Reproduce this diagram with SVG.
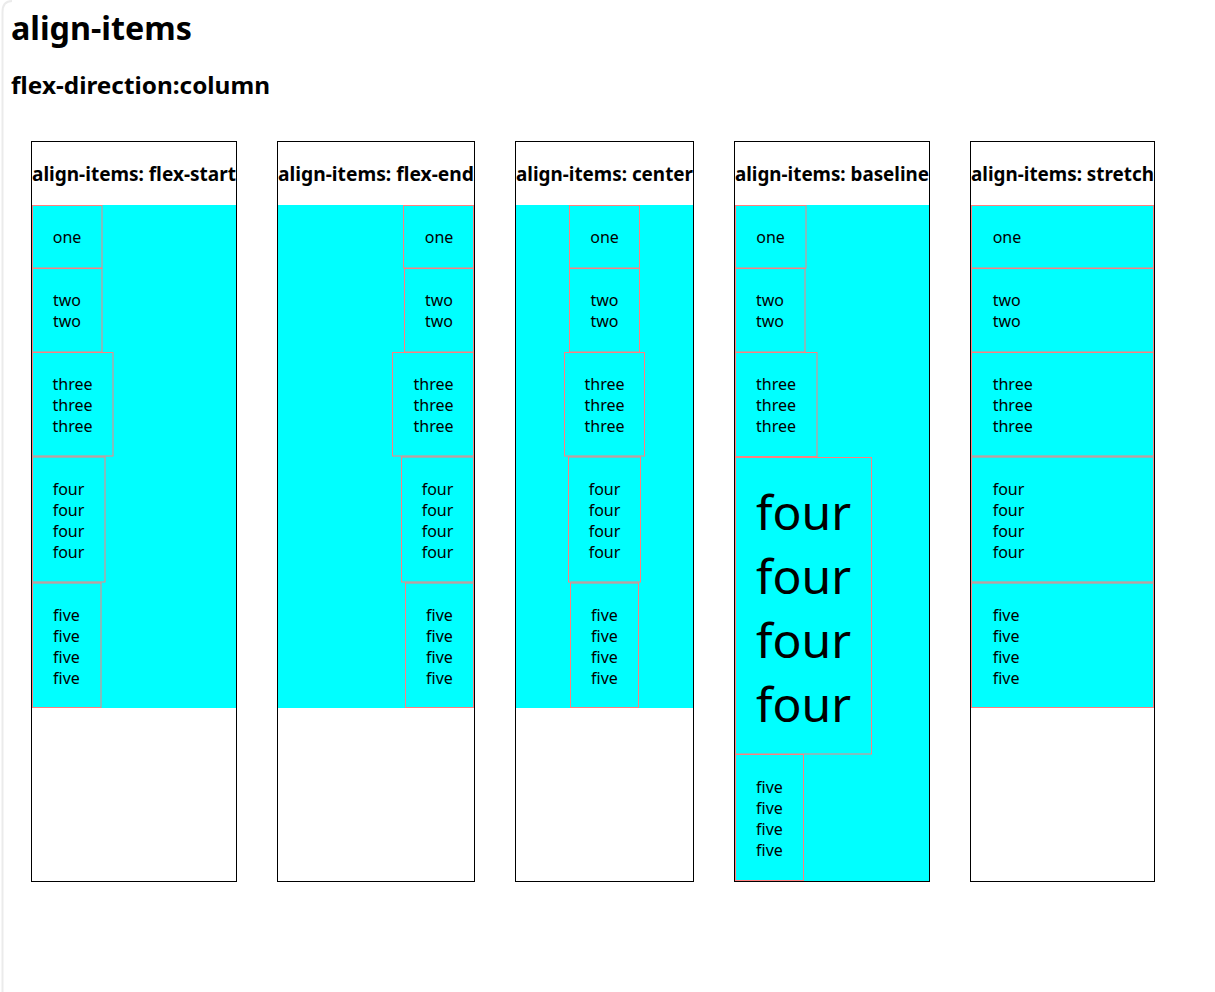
<svg xmlns="http://www.w3.org/2000/svg" width="1215" height="992" viewBox="0 0 1215 992">
<style>
  text { font-family: "Noto Sans", "Open Sans", "Liberation Sans", sans-serif; fill: #000; }
  .h1 { font-size: 32px; font-weight: bold; }
  .h2 { font-size: 24px; font-weight: bold; }
  .hd { font-size: 18.7px; font-weight: bold; }
  .it { font-size: 16px; text-anchor: middle; }
  .its { font-size: 16px; }
  .big { font-size: 48px; text-anchor: middle; }
  .box { fill: #fff; stroke: #000; stroke-width: 1; }
  .cy { fill: #00ffff; }
  .item { fill: #00ffff; stroke: #ff7f7f; stroke-width: 1; }
</style>
<rect x="0" y="0" width="1215" height="992" fill="#fff"/>
<path d="M2.5,992 V12 Q2.5,1 12,1" fill="none" stroke="#ebebeb" stroke-width="2"/>
<text class="h1" x="11" y="40" textLength="181" lengthAdjust="spacingAndGlyphs">align-items</text>
<text class="h2" x="11" y="94" textLength="259" lengthAdjust="spacingAndGlyphs">flex-direction:column</text>

<g id="col-flex-start">
  <rect class="box" x="31.5" y="141.5" width="205" height="740"/>
  <text class="hd" x="32" y="180.5" textLength="204" lengthAdjust="spacingAndGlyphs">align-items: flex-start</text>
  <rect class="cy" x="32" y="205" width="204" height="503"/>
  <g id="c1-one"><rect class="item" x="32.5" y="205.5" width="69.5" height="62.5"/><text class="it" x="67" y="242.7">one</text></g>
  <g id="c1-two"><rect class="item" x="32.5" y="268.5" width="69.5" height="83.5"/><text class="it" x="67"><tspan x="67" y="306">two</tspan><tspan x="67" y="327">two</tspan></text></g>
  <g id="c1-three"><rect class="item" x="32.5" y="352.5" width="80.5" height="103.5"/><text class="it"><tspan x="72.5" y="390">three</tspan><tspan x="72.5" y="411">three</tspan><tspan x="72.5" y="432">three</tspan></text></g>
  <g id="c1-four"><rect class="item" x="32.5" y="457" width="72.5" height="125"/><text class="it"><tspan x="68.5" y="495">four</tspan><tspan x="68.5" y="516">four</tspan><tspan x="68.5" y="537">four</tspan><tspan x="68.5" y="558">four</tspan></text></g>
  <g id="c1-five"><rect class="item" x="32.5" y="583" width="68.5" height="124.5"/><text class="it"><tspan x="66.5" y="621">five</tspan><tspan x="66.5" y="642">five</tspan><tspan x="66.5" y="663">five</tspan><tspan x="66.5" y="684">five</tspan></text></g>
</g>

<g id="col-flex-end">
  <rect class="box" x="277.5" y="141.5" width="197" height="740"/>
  <text class="hd" x="278" y="180.5" textLength="196" lengthAdjust="spacingAndGlyphs">align-items: flex-end</text>
  <rect class="cy" x="278" y="205" width="196" height="503"/>
  <g id="c2-one"><rect class="item" x="403.5" y="205.5" width="70" height="62.5"/><text class="it" x="439" y="242.7">one</text></g>
  <g id="c2-two"><rect class="item" x="404.5" y="268.5" width="69" height="83.5"/><text class="it"><tspan x="439" y="306">two</tspan><tspan x="439" y="327">two</tspan></text></g>
  <g id="c2-three"><rect class="item" x="392.5" y="352.5" width="81" height="103.5"/><text class="it"><tspan x="433.5" y="390">three</tspan><tspan x="433.5" y="411">three</tspan><tspan x="433.5" y="432">three</tspan></text></g>
  <g id="c2-four"><rect class="item" x="401.5" y="457" width="72" height="125"/><text class="it"><tspan x="437.5" y="495">four</tspan><tspan x="437.5" y="516">four</tspan><tspan x="437.5" y="537">four</tspan><tspan x="437.5" y="558">four</tspan></text></g>
  <g id="c2-five"><rect class="item" x="405.5" y="583" width="68" height="124.5"/><text class="it"><tspan x="439.5" y="621">five</tspan><tspan x="439.5" y="642">five</tspan><tspan x="439.5" y="663">five</tspan><tspan x="439.5" y="684">five</tspan></text></g>
</g>

<g id="col-center">
  <rect class="box" x="515.5" y="141.5" width="178" height="740"/>
  <text class="hd" x="516" y="180.5" textLength="177" lengthAdjust="spacingAndGlyphs">align-items: center</text>
  <rect class="cy" x="516" y="205" width="177" height="503"/>
  <g id="c3-one"><rect class="item" x="569.5" y="205.5" width="70" height="62.5"/><text class="it" x="604.5" y="242.7">one</text></g>
  <g id="c3-two"><rect class="item" x="569.5" y="268.5" width="70" height="83.5"/><text class="it"><tspan x="604.5" y="306">two</tspan><tspan x="604.5" y="327">two</tspan></text></g>
  <g id="c3-three"><rect class="item" x="564.5" y="352.5" width="80" height="103.5"/><text class="it"><tspan x="604.5" y="390">three</tspan><tspan x="604.5" y="411">three</tspan><tspan x="604.5" y="432">three</tspan></text></g>
  <g id="c3-four"><rect class="item" x="568.5" y="457" width="72" height="125"/><text class="it"><tspan x="604.5" y="495">four</tspan><tspan x="604.5" y="516">four</tspan><tspan x="604.5" y="537">four</tspan><tspan x="604.5" y="558">four</tspan></text></g>
  <g id="c3-five"><rect class="item" x="570.5" y="583" width="68" height="124.5"/><text class="it"><tspan x="604.5" y="621">five</tspan><tspan x="604.5" y="642">five</tspan><tspan x="604.5" y="663">five</tspan><tspan x="604.5" y="684">five</tspan></text></g>
</g>

<g id="col-baseline">
  <rect class="box" x="734.5" y="141.5" width="195" height="740"/>
  <text class="hd" x="735" y="180.5" textLength="194" lengthAdjust="spacingAndGlyphs">align-items: baseline</text>
  <rect class="cy" x="735" y="205" width="194" height="676"/>
  <g id="c4-one"><rect class="item" x="735.5" y="205.5" width="70.5" height="62.5"/><text class="it" x="770.5" y="242.7">one</text></g>
  <g id="c4-two"><rect class="item" x="735.5" y="268.5" width="69.5" height="83.5"/><text class="it"><tspan x="770" y="306">two</tspan><tspan x="770" y="327">two</tspan></text></g>
  <g id="c4-three"><rect class="item" x="735.5" y="352.5" width="81.5" height="104"/><text class="it"><tspan x="776" y="390">three</tspan><tspan x="776" y="411">three</tspan><tspan x="776" y="432">three</tspan></text></g>
  <g id="c4-four"><rect class="item" x="735.5" y="457.5" width="136" height="296.5"/><text class="big"><tspan x="803.5" y="530">four</tspan><tspan x="803.5" y="594">four</tspan><tspan x="803.5" y="658">four</tspan><tspan x="803.5" y="722">four</tspan></text></g>
  <g id="c4-five"><rect class="item" x="735.5" y="754.5" width="68" height="126"/><text class="it"><tspan x="769.5" y="792.5">five</tspan><tspan x="769.5" y="813.5">five</tspan><tspan x="769.5" y="834.5">five</tspan><tspan x="769.5" y="855.5">five</tspan></text></g>
</g>

<g id="col-stretch">
  <rect class="box" x="970.5" y="141.5" width="184" height="740"/>
  <text class="hd" x="971" y="180.5" textLength="183" lengthAdjust="spacingAndGlyphs">align-items: stretch</text>
  <rect class="cy" x="971" y="205" width="183" height="503"/>
  <g id="c5-one"><rect class="item" x="971.5" y="205.5" width="182" height="62.5"/><text class="its" x="992.7" y="242.7">one</text></g>
  <g id="c5-two"><rect class="item" x="971.5" y="268.5" width="182" height="83.5"/><text class="its"><tspan x="992.7" y="306">two</tspan><tspan x="992.7" y="327">two</tspan></text></g>
  <g id="c5-three"><rect class="item" x="971.5" y="352.5" width="182" height="103.5"/><text class="its"><tspan x="992.7" y="390">three</tspan><tspan x="992.7" y="411">three</tspan><tspan x="992.7" y="432">three</tspan></text></g>
  <g id="c5-four"><rect class="item" x="971.5" y="457" width="182" height="125"/><text class="its"><tspan x="992.7" y="495">four</tspan><tspan x="992.7" y="516">four</tspan><tspan x="992.7" y="537">four</tspan><tspan x="992.7" y="558">four</tspan></text></g>
  <g id="c5-five"><rect class="item" x="971.5" y="583" width="182" height="124.5"/><text class="its"><tspan x="992.7" y="621">five</tspan><tspan x="992.7" y="642">five</tspan><tspan x="992.7" y="663">five</tspan><tspan x="992.7" y="684">five</tspan></text></g>
</g>

<g id="connectors"></g>
</svg>
